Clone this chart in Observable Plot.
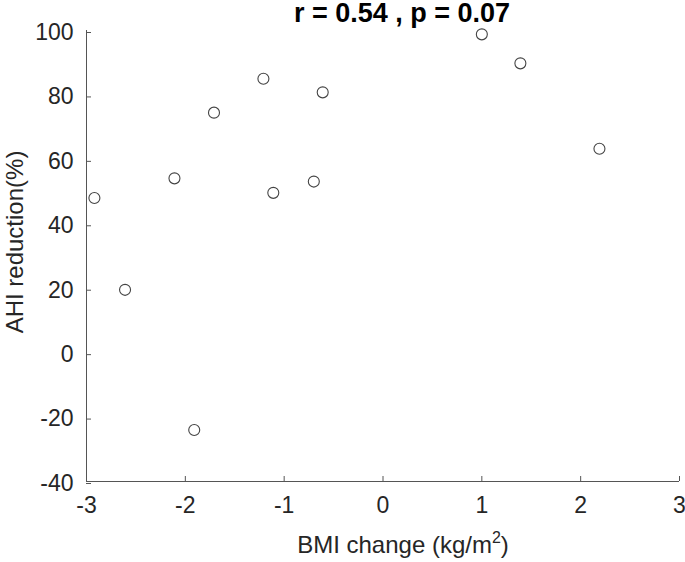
<!DOCTYPE html>
<html><head><meta charset="utf-8">
<script src="https://cdn.jsdelivr.net/npm/d3@7"></script>
<script src="https://cdn.jsdelivr.net/npm/@observablehq/plot@0.6"></script>
<style>body{margin:0;background:#fff}</style>
</head><body><div id="chart"></div>
<script>
const bmiChange    = [-2.92, -2.61, -2.11, -1.91, -1.71, -1.21, -1.11, -0.70, -0.61, 1.00, 1.39, 2.19];
const ahiReduction = [48.0, 19.5, 54.1, -24.0, 74.5, 85.0, 49.6, 53.1, 80.8, 98.8, 89.8, 63.3];
const xTicks = [-3, -2, -1, 0, 1, 2, 3];
const yTicks = [-40, -20, 0, 20, 40, 60, 80, 100];
const titleText = "r = 0.54 , p = 0.07";
const xLabel = "BMI change (kg/m2)";
const yLabel = "AHI reduction(%)";

const data = bmiChange.map((x, i) => ({x, y: ahiReduction[i]}));
const axisColor = "#555";
const font = "'Liberation Sans', Arial, Helvetica, sans-serif";

const plot = Plot.plot({
  width: 685, height: 562,
  marginLeft: 86, marginRight: 6, marginTop: 30, marginBottom: 81,
  style: {fontFamily: font, background: "#fff", color: "#262626", overflow: "visible"},
  x: {domain: [-3, 3]},
  y: {domain: [-40, 100]},
  marks: [
    Plot.ruleX([-3], {stroke: axisColor}),
    Plot.ruleY([-40], {stroke: axisColor}),
    Plot.axisX({ticks: xTicks, tickSize: -5, tickPadding: 20, fontSize: 23, label: null,
      stroke: axisColor, fill: "#262626", tickFormat: d => String(d)}),
    Plot.axisY({ticks: yTicks, tickSize: -5, tickPadding: 18, fontSize: 23, label: null,
      stroke: axisColor, fill: "#262626", dy: 2, tickFormat: d => String(d)}),
    Plot.dot(data, {x: "x", y: "y", r: 5.5, stroke: "#444", strokeWidth: 1.1, fill: "none"}),
    Plot.text([titleText], {frameAnchor: "top", text: d => d, fontSize: 27, fontWeight: "bold",
      fill: "#000", textAnchor: "middle", lineAnchor: "middle", dy: -17.5, dx: 19}),
    Plot.text([xLabel], {frameAnchor: "bottom", text: d => d, fontSize: 24, fill: "#262626",
      textAnchor: "middle", lineAnchor: "middle", dy: 64, dx: 20}),
    Plot.text([yLabel], {frameAnchor: "left", text: d => d, fontSize: 24, fill: "#262626",
      rotate: -90, textAnchor: "middle", lineAnchor: "middle", dx: -71, dy: -14})
  ]
});

// superscript in the x label
d3.select(plot).selectAll("text").each(function() {
  if (this.textContent === xLabel) {
    const t = d3.select(this);
    t.text(null);
    t.append("tspan").text("BMI change (kg/m");
    t.append("tspan").attr("dy", "-10").attr("font-size", 16).text("2");
    t.append("tspan").attr("dy", "10").text(")");
  }
});

document.getElementById("chart").appendChild(plot);
</script>
</body></html>
